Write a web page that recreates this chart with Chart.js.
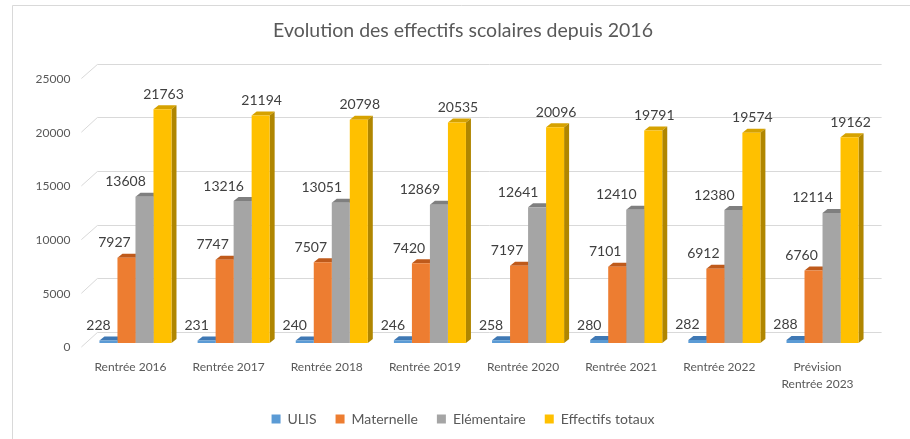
<!DOCTYPE html>
<html>
<head>
<meta charset="utf-8">
<script src="https://cdn.jsdelivr.net/npm/chart.js@4.4.0/dist/chart.umd.min.js"></script>
<style>
html, body { margin: 0; padding: 0; background: #fff; }
#wrap { position: relative; width: 910px; height: 439px; }
</style>
</head>
<body>
<div id="wrap"><canvas id="myChart"></canvas></div>
<script>
var labels = [
	'Rentrée 2016',
	'Rentrée 2017',
	'Rentrée 2018',
	'Rentrée 2019',
	'Rentrée 2020',
	'Rentrée 2021',
	'Rentrée 2022',
	['Prévision', 'Rentrée 2023'],
];
var ulis = [228, 231, 240, 246, 258, 280, 282, 288];
var maternelle = [7927, 7747, 7507, 7420, 7197, 7101, 6912, 6760];
var elementaire = [13608, 13216, 13051, 12869, 12641, 12410, 12380, 12114];
var totaux = [21763, 21194, 20798, 20535, 20096, 19791, 19574, 19162];
var yTicks = [0, 5000, 10000, 15000, 20000, 25000];

// front / top / side colours for the fake 3d
var fronts = ['#5B9BD5', '#ED7D31', '#A5A5A5', '#FFC000'];
var tops = ['#3F78B4', '#BF5A1B', '#7F7F7F', '#D6A200'];
var sides = ['#3A6A9C', '#A84E16', '#707070', '#B08600'];
// excel puts the value labels a bit off centre
var labelShift = [-10, -12, -19, 1];

var FONT = 'Lato';
var DX = 5, DY = 4;

var frame = {
	id: 'frame',
	beforeDraw: function (chart) {
		var ctx = chart.ctx;
		ctx.save();
		ctx.fillStyle = '#fff';
		ctx.fillRect(0, 0, chart.width, chart.height);
		ctx.strokeStyle = '#d9d9d9';
		ctx.lineWidth = 1;
		ctx.beginPath();
		ctx.moveTo(12.5, chart.height);
		ctx.lineTo(12.5, 5.5);
		ctx.lineTo(chart.width, 5.5);
		ctx.stroke();
		ctx.restore();
	},
};

var backGrid = {
	id: 'backGrid',
	beforeDatasetsDraw: function (chart) {
		var ctx = chart.ctx;
		var y = chart.scales.y;
		var area = chart.chartArea;
		ctx.save();
		ctx.strokeStyle = '#d9d9d9';
		ctx.lineWidth = 1;
		ctx.beginPath();
		yTicks.forEach(function (v) {
			var py = y.getPixelForValue(v);
			var back = Math.round(py - 11) + 0.5;
			ctx.moveTo(area.left - 5, py + 4);
			ctx.lineTo(area.left + 11, back);
			ctx.lineTo(area.right + 10, back);
		});
		ctx.stroke();

		// top and side faces, the fronts drawn by chart.js cover what is hidden
		chart.data.datasets.forEach(function (ds, i) {
			var meta = chart.getDatasetMeta(i);
			meta.data.forEach(function (el) {
				var p = el.getProps(['x', 'y', 'base', 'width'], true);
				var l = p.x - p.width / 2;
				var r = p.x + p.width / 2;
				ctx.fillStyle = tops[i];
				ctx.beginPath();
				ctx.moveTo(l, p.y);
				ctx.lineTo(l + DX, p.y - DY);
				ctx.lineTo(r + DX, p.y - DY);
				ctx.lineTo(r, p.y);
				ctx.closePath();
				ctx.fill();
				ctx.fillStyle = sides[i];
				ctx.beginPath();
				ctx.moveTo(r, p.y);
				ctx.lineTo(r + DX, p.y - DY);
				ctx.lineTo(r + DX, p.base - DY);
				ctx.lineTo(r, p.base);
				ctx.closePath();
				ctx.fill();
			});
		});
		ctx.restore();
	},
};

var valueLabels = {
	id: 'valueLabels',
	afterDatasetsDraw: function (chart) {
		var ctx = chart.ctx;
		ctx.save();
		ctx.fillStyle = '#404040';
		ctx.font = '14px ' + FONT;
		ctx.textAlign = 'center';
		ctx.textBaseline = 'middle';
		chart.data.datasets.forEach(function (ds, i) {
			chart.getDatasetMeta(i).data.forEach(function (el, j) {
				ctx.fillText(String(ds.data[j]), el.x + labelShift[i], el.y - 15);
			});
		});
		ctx.restore();
	},
};

function makeSet(name, data, i) {
	return {
		label: name,
		data: data,
		backgroundColor: fronts[i],
		borderWidth: 0,
		categoryPercentage: 0.734,
		barPercentage: 1,
	};
}

new Chart('myChart', {
	type: 'bar',
	data: {
		labels: labels,
		datasets: [
			makeSet('ULIS', ulis, 0),
			makeSet('Maternelle', maternelle, 1),
			makeSet('Elémentaire', elementaire, 2),
			makeSet('Effectifs totaux', totaux, 3),
		],
	},
	options: {
		responsive: true,
		maintainAspectRatio: false,
		animation: false,
		layout: { padding: { left: 16, right: 0, top: 0, bottom: 3 } },
		scales: {
			x: {
				grid: { display: false },
				border: { display: false },
				ticks: {
					color: '#595959',
					font: { family: FONT, size: 12, lineHeight: 1.4 },
					padding: 8,
					labelOffset: -5,
					maxRotation: 0,
					autoSkip: false,
				},
				afterFit: function (s) { s.height = 50; },
			},
			y: {
				min: 0,
				max: 25000,
				grid: { display: false },
				border: { display: false },
				ticks: {
					stepSize: 5000,
					color: '#595959',
					font: { family: FONT, size: 12 },
					padding: 8,
					labelOffset: 4.5,
					callback: function (v) { return String(v); },
				},
				afterFit: function (s) { s.width = 70.4; },
			},
			// empty right axis, only to keep room on the right
			yRight: {
				position: 'right',
				grid: { display: false },
				border: { display: false },
				ticks: { display: false },
				afterFit: function (s) { s.width = 38.4; },
			},
		},
		plugins: {
			title: {
				display: true,
				text: 'Evolution des effectifs scolaires depuis 2016',
				color: '#595959',
				font: { family: FONT, size: 19.5, weight: 'normal', lineHeight: 1.2 },
				padding: { top: 19, bottom: 32.1 },
			},
			legend: {
				position: 'bottom',
				labels: {
					boxWidth: 9,
					boxHeight: 9,
					color: '#595959',
					font: { family: FONT, size: 14 },
					padding: 19,
				},
			},
			tooltip: { enabled: false },
		},
	},
	plugins: [frame, backGrid, valueLabels],
});
</script>
</body>
</html>
